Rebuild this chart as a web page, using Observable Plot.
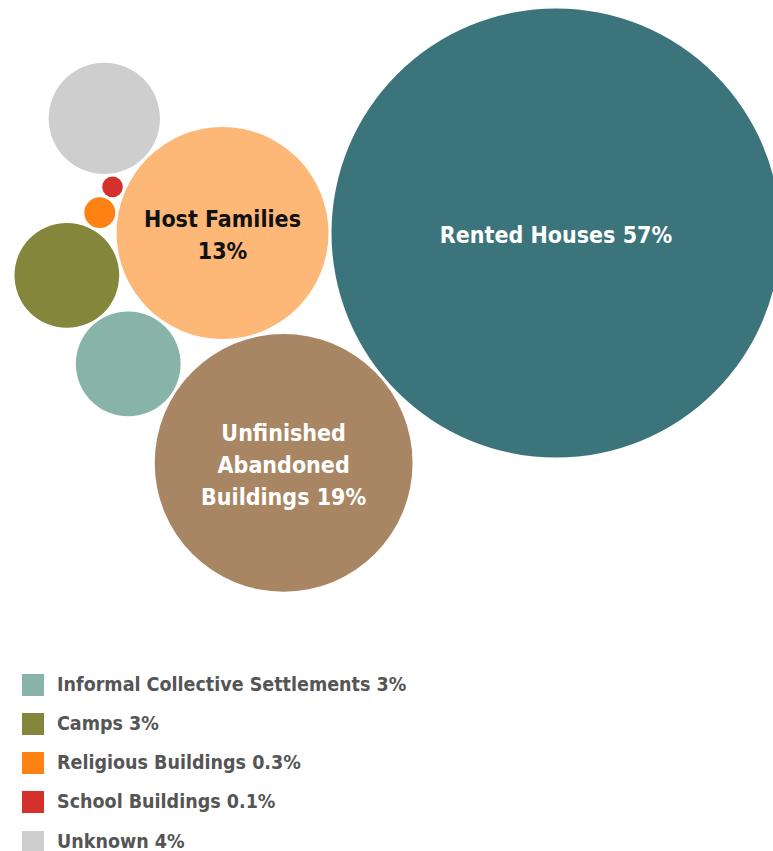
<!DOCTYPE html>
<html><head><meta charset="utf-8">
<script src="https://cdn.jsdelivr.net/npm/d3@7"></script>
<script src="https://cdn.jsdelivr.net/npm/@observablehq/plot@0.6"></script>
<style>
html,body{margin:0;padding:0;background:#fff;overflow:hidden;}
#chart svg{display:block;overflow:hidden;}
#legend{padding-left:22px;font-family:"DejaVu Sans Condensed","DejaVu Sans",sans-serif;font-stretch:condensed;font-weight:bold;font-size:19.5px;color:#555;}
#legend .row{display:flex;align-items:center;height:39.25px;}
#legend .sw{width:22px;height:22px;margin-right:13px;flex:none;}
#legend span{line-height:18px;}
</style></head><body>
<div id="chart"></div>
<div id="legend"></div>
<script>
// Categories (ring order around the anchor bubble "Host Families")
const categories = ["Host Families","Rented Houses","Unfinished Abandoned Buildings","Informal Collective Settlements","Camps","Religious Buildings","School Buildings","Unknown"];
// Shares in %
const shares = [12.7, 57, 18.8, 3.1, 3.1, 0.27, 0.12, 3.5];
// Printed percentages
const shareLabels = ["13%","57%","19%","3%","3%","0.3%","0.1%","4%"];
// Labels printed inside bubbles
const bubbleLabels = ["Host Families\n13%","Rented Houses 57%","Unfinished\nAbandoned\nBuildings 19%","","","","",""];
const colors = ["#fdb878","#3b747a","#a98663","#88b3a9","#84863c","#fe8113","#d5312c","#cecece"];
const legendCategories = ["Informal Collective Settlements","Camps","Religious Buildings","School Buildings","Unknown"];

const W = 773, H = 665;
const maxR = 224.5;
const rScale = d3.scaleSqrt().domain([0, 57]).range([0, maxR]);
const gap = 1.5;
const pr = i => rScale(shares[i]) + gap;

// Layout: anchor bubble at centre, others placed tangent to it and to the previous one
const nodes = categories.map((c, i) => ({category: c, value: shares[i], label: bubbleLabels[i], x: 0, y: 0}));
const anchor = 0;
const ring = [1, 2, 3, 4, 5, 6, 7];
const ra = pr(anchor);
let angle = 0;
ring.forEach((i, k) => {
  if (k > 0) {
    const p = ring[k - 1];
    const d1 = ra + pr(p), d2 = ra + pr(i), d12 = pr(p) + pr(i);
    angle += Math.acos((d1 * d1 + d2 * d2 - d12 * d12) / (2 * d1 * d2));
  }
  const d = ra + pr(i);
  nodes[i].x = d * Math.cos(angle);
  nodes[i].y = d * Math.sin(angle);
});
const x0 = d3.min(nodes, d => d.x - rScale(d.value)) - 14;
const y0 = d3.min(nodes, d => d.y - rScale(d.value)) - 8;

const font = '"DejaVu Sans Condensed","DejaVu Sans",sans-serif';
const labelled = nodes.filter(d => d.label);
const plot = Plot.plot({
  width: W, height: H, margin: 0,
  x: {domain: [x0, x0 + W], range: [0, W], axis: null},
  y: {domain: [y0, y0 + H], range: [0, H], axis: null},
  r: {type: "sqrt", domain: [0, 57], range: [0, maxR]},
  color: {domain: categories, range: colors},
  style: {fontFamily: font, fontStretch: "condensed", background: "white", overflow: "hidden"},
  marks: [
    Plot.dot(nodes, {x: "x", y: "y", r: "value", fill: "category"}),
    Plot.text(labelled.filter(d => d.category !== "Host Families"), {x: "x", y: "y", text: "label", fill: "white", fontSize: 23, fontWeight: "bold", lineHeight: 1.4}),
    Plot.text(labelled.filter(d => d.category === "Host Families"), {x: "x", y: "y", text: "label", fill: "#111", fontSize: 23, fontWeight: "bold", lineHeight: 1.4})
  ]
});
document.getElementById("chart").appendChild(plot);

const legend = d3.select("#legend");
legendCategories.forEach(c => {
  const i = categories.indexOf(c);
  const row = legend.append("div").attr("class", "row");
  row.append("div").attr("class", "sw").style("background", colors[i]);
  row.append("span").text(c + " " + shareLabels[i]);
});
</script>
</body></html>
